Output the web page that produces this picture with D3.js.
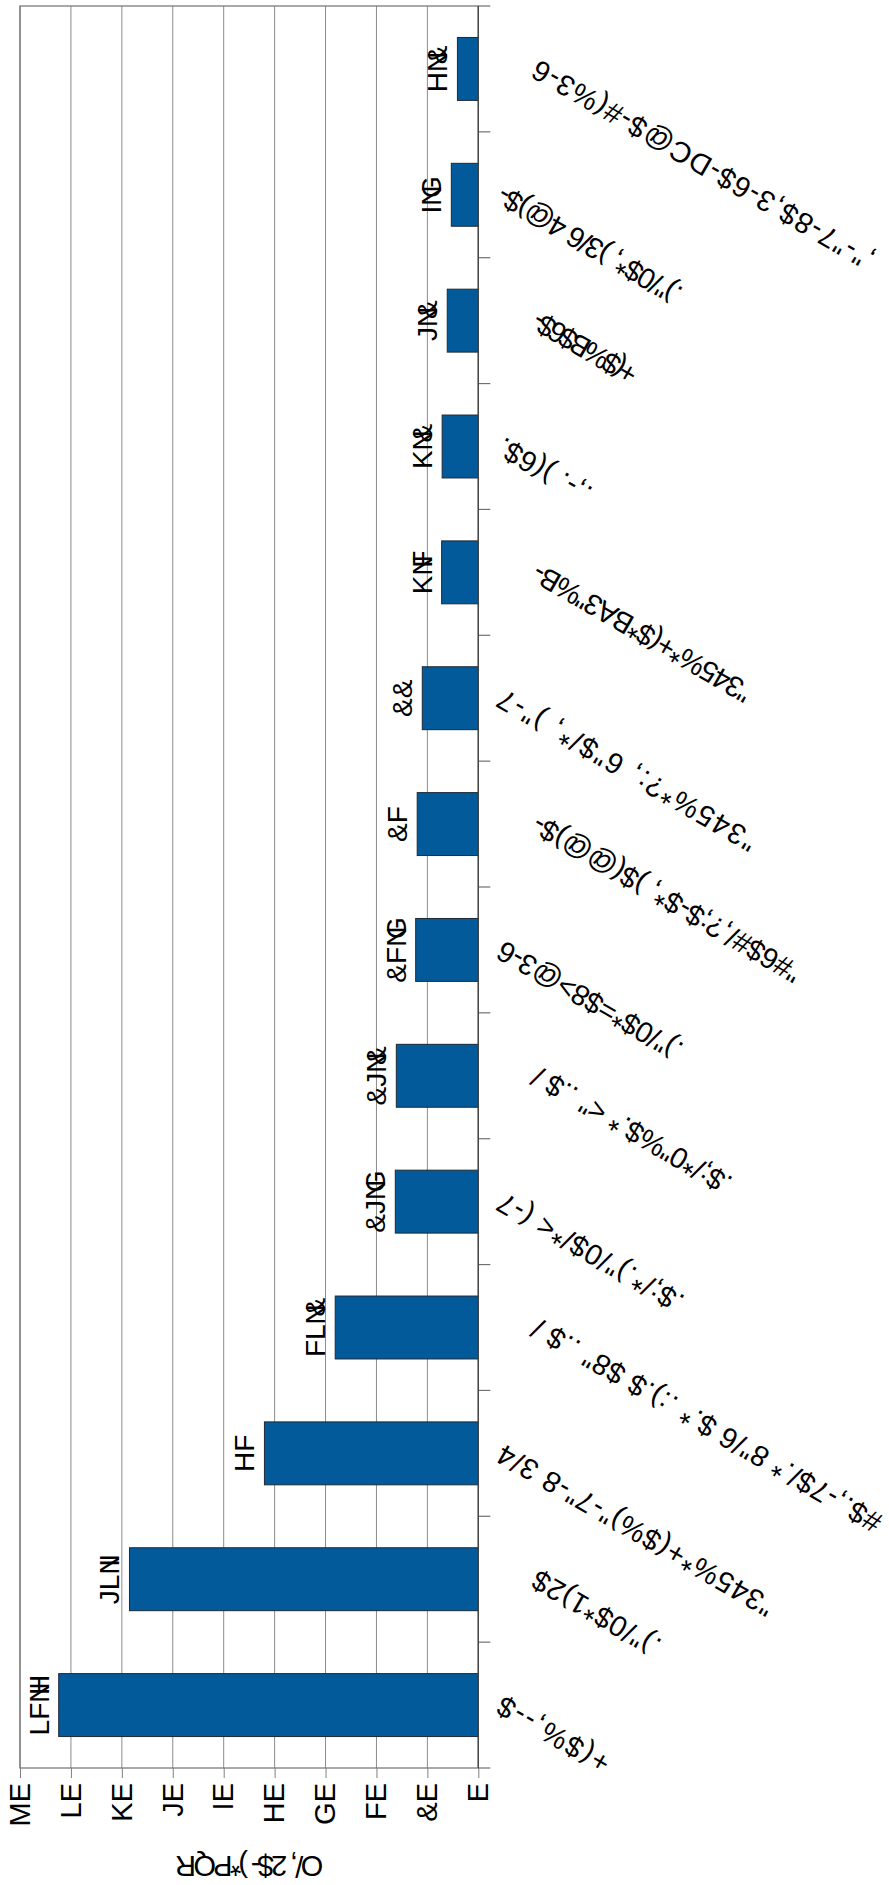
<!DOCTYPE html>
<html>
<head>
<meta charset="utf-8">
<script src="https://cdn.jsdelivr.net/npm/d3@7"></script>
<style>
    body { margin: 0; background: #fff; }
    svg { display: block; font-family: "Liberation Sans", Arial, sans-serif; }
</style>
</head>
<body>
<svg id="chart" width="889" height="1885"></svg>
<script>
// category names as the chart's font shows them
const categories = [
    '+($%,--$',
    '.)"/0$*1)2$',
    '"345%*+($%)"-7"-8 3/4',
    '#$.,-7$/.* 8"/6 $.* .:).$ $8" ..$ /',
    '.$;/*.)"/0$/*< (-7',
    '.$;/*0"%$.* <" ..$ /',
    '.)"/0$*=$8>@3-6',
    '"#6$#/,?;$-$*, )$(@@)$-',
    '"345%*?:, 6"$/*, )"-7',
    '"345%*+($*BA3"%B-',
    '.,-. )(6$.',
    '+($%B$6$-',
    '.)"/0$*, )3/6 4@)$-',
    ',"-"7-8$,3-6$-DC@$-#(%3-6'
];
const values = [82.4, 68.5, 42, 28.1, 16.3, 16.1, 12.3, 12, 11, 7.2, 7.1, 6.1, 5.3, 4.1];
const yTicks = [0, 10, 20, 30, 40, 50, 60, 70, 80, 90];
const axisTitle = "O/, 2$- )*PQR";

// the chart's font swaps digits for other glyphs
const digitGlyphs = {
    "0": "E", "1": "&", "2": "F", "3": "G", "4": "H",
    "5": "I", "6": "J", "7": "K", "8": "L", "9": "M", ".": "N"
};
const encode = v => String(v).split("").map(c => digitGlyphs[c] || c).join("");

// length each category label takes on the page
const labelWidths = [125, 143, 314, 398, 210, 225, 209, 305, 294, 248, 104, 116, 208, 390];

// the point glyph keeps the narrow advance of "."
const ctx = document.createElement("canvas").getContext("2d");
function pointDx(real, size) {
    ctx.font = size + "px 'Liberation Sans'";
    const shift = ctx.measureText(".").width - ctx.measureText(digitGlyphs["."]).width;
    const dx = [0];
    for (let i = 1; i < real.length; i++) {
        dx.push(real[i - 1] === "." ? shift.toFixed(2) : 0);
    }
    return dx.join(" ");
}

// chart is laid out upright, then turned a quarter turn
const W = 1885, H = 889;
const margin = { top: 20, right: 6, bottom: 410.7, left: 117 };
const plotW = W - margin.left - margin.right;
const plotH = H - margin.top - margin.bottom;

const svg = d3.select("#chart");
const g = svg.append("g")
    .attr("transform", "translate(0," + W + ") rotate(-90)");

const x = d3.scaleBand()
    .domain(categories)
    .range([margin.left, margin.left + plotW])
    .paddingInner(0.5)
    .paddingOuter(0.25);

const y = d3.scaleLinear()
    .domain([0, 90])
    .range([margin.top + plotH, margin.top]);

// grid
g.append("g")
    .selectAll("line")
    .data(yTicks)
    .enter()
    .append("line")
    .attr("x1", margin.left)
    .attr("x2", margin.left + plotW)
    .attr("y1", d => y(d))
    .attr("y2", d => y(d))
    .attr("stroke", "#8c8c8c")
    .attr("stroke-width", 1);

// frame
g.append("rect")
    .attr("x", margin.left)
    .attr("y", margin.top)
    .attr("width", plotW)
    .attr("height", plotH)
    .attr("fill", "none")
    .attr("stroke", "#707070")
    .attr("stroke-width", 1.2);

// bars
g.selectAll(".bar")
    .data(values)
    .enter()
    .append("rect")
    .attr("class", "bar")
    .attr("x", (d, i) => x(categories[i]))
    .attr("width", x.bandwidth())
    .attr("y", d => y(d))
    .attr("height", d => y(0) - y(d))
    .attr("fill", "#035a9b")
    .attr("stroke", "#1c2a36")
    .attr("stroke-width", 1);

// value labels
g.selectAll(".value")
    .data(values)
    .enter()
    .append("text")
    .attr("class", "value")
    .attr("x", (d, i) => x(categories[i]) + x.bandwidth() / 2)
    .attr("y", d => y(d) - 10)
    .attr("text-anchor", "middle")
    .attr("dx", d => pointDx(String(d), 28))
    .style("font-size", "28px")
    .text(d => encode(d));

// value axis
const yAxis = g.append("g")
    .attr("transform", "translate(" + margin.left + ",0)")
    .call(d3.axisLeft(y).tickValues(yTicks).tickSize(10).tickPadding(5).tickFormat(encode));
yAxis.select(".domain").remove();
yAxis.selectAll(".tick line").attr("stroke", "#808080");
yAxis.selectAll(".tick text")
    .attr("fill", "#000")
    .style("font-size", "29px")
    .style("font-family", "'Liberation Sans', Arial, sans-serif");

// category axis: line and ticks between bands
const edges = categories.map(c => x(c) - x.step() * x.paddingInner() / 2);
edges.push(x(categories[categories.length - 1]) + x.bandwidth() + x.step() * x.paddingInner() / 2);

g.append("g")
    .selectAll("line")
    .data(edges)
    .enter()
    .append("line")
    .attr("x1", d => d)
    .attr("x2", d => d)
    .attr("y1", y(0))
    .attr("y2", y(0) + 12)
    .attr("stroke", "#707070")
    .attr("stroke-width", 1.2);

g.append("line")
    .attr("x1", margin.left)
    .attr("x2", margin.left + plotW)
    .attr("y1", y(0))
    .attr("y2", y(0))
    .attr("stroke", "#454545")
    .attr("stroke-width", 1.3);

// category labels, every other one set lower
g.selectAll(".cat")
    .data(categories)
    .enter()
    .append("text")
    .attr("class", "cat")
    .attr("transform", (d, i) => "translate(" + (x(d) + x.bandwidth() / 2 + 10) + "," +
        (y(0) + 26 + (i % 2 ? 35 : 0)) + ") rotate(-60)")
    .attr("text-anchor", "end")
    .attr("textLength", (d, i) => labelWidths[i])
    .attr("lengthAdjust", "spacing")
    .style("font-size", "29px")
    .style("white-space", "pre")
    .text(d => d);

// axis title
g.append("text")
    .attr("transform", "translate(19," + (margin.top + plotH / 2) + ") rotate(-90)")
    .attr("text-anchor", "middle")
    .attr("dy", "0.35em")
    .attr("textLength", 148)
    .attr("lengthAdjust", "spacing")
    .style("font-size", "29px")
    .style("white-space", "pre")
    .text(axisTitle);
</script>
</body>
</html>
